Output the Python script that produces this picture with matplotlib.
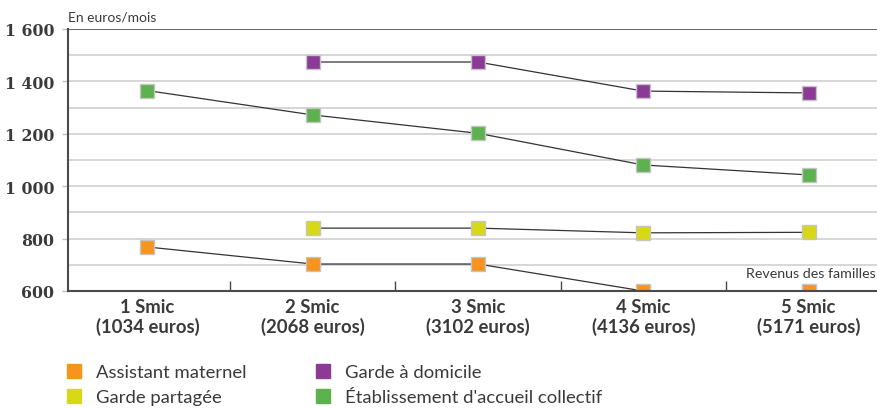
import matplotlib
matplotlib.use("Agg")
import matplotlib.pyplot as plt
from matplotlib.lines import Line2D
import numpy as np

categories = ["1 Smic\n(1034 euros)", "2 Smic\n(2068 euros)", "3 Smic\n(3102 euros)",
              "4 Smic\n(4136 euros)", "5 Smic\n(5171 euros)"]
assistant_maternel = [768, 703, 703, 600, 600]
garde_partagee = [None, 840, 840, 822, 824]
garde_domicile = [None, 1474, 1474, 1363, 1356]
etablissement = [1365, 1272, 1202, 1081, 1043]

series_names = ["Assistant maternel", "Garde partagée", "Garde à domicile",
                "Établissement d'accueil collectif"]
series_values = [assistant_maternel, garde_partagee, garde_domicile, etablissement]
colors = ["#F7941D", "#D7D916", "#8B3A96", "#5DB14E"]

yticks = [600, 800, 1000, 1200, 1400, 1600]
ytick_labels = ["600", "800", "1 000", "1 200", "1 400", "1 600"]

W, H = 878, 410
fig = plt.figure(figsize=(W/100, H/100), dpi=100)
ax = fig.add_axes([68/W, 1-292/H, 1-68/W, (292-30)/H])

x = np.arange(len(categories))
for vals, c in zip(series_values, colors):
    xs = [xi for xi, v in zip(x, vals) if v is not None]
    ys = [v for v in vals if v is not None]
    ax.plot(xs, ys, color="#333333", lw=0.9, zorder=3)
    ax.plot(xs, ys, ls="none", marker="s", ms=10.5, mfc=c, mec="#c4c4c4", mew=1.0, zorder=4)

ax.set_xlim(-0.48, 4.42)
ax.set_ylim(600, 1600)

for yv in range(700, 1600, 100):
    ax.axhline(yv, color="#cfcfcf", lw=1.2, zorder=1)
ax.axhline(1600, color="#6a6a6a", lw=1.5, zorder=2)

for s in ["top", "right"]:
    ax.spines[s].set_visible(False)
for s in ["left", "bottom"]:
    ax.spines[s].set_color("#4a4a4a")
    ax.spines[s].set_linewidth(1.5)
    ax.spines[s].set_zorder(5)

ax.set_yticks(yticks)
ax.set_yticklabels(ytick_labels, fontfamily="DejaVu Serif", fontweight="bold",
                   fontsize=11.3, color="#3a3a3a")
ax.tick_params(axis="y", length=4, width=1, color="#bdbdbd", pad=6)

ax.set_xticks(x)
ax.set_xticklabels(categories, fontfamily="Lato", fontweight="bold", fontsize=13.3,
                   color="#3a3a3a", linespacing=1.12)
ax.tick_params(axis="x", length=0, pad=5)
ax.set_xticks(np.arange(0.5, 4, 1), minor=True)
ax.tick_params(axis="x", which="minor", direction="in", length=7, width=1, color="#4a4a4a")

fig.text(68/W, 1-18/H, "En euros/mois", fontfamily="Lato", fontsize=10,
         color="#3a3a3a", va="center", ha="left")
fig.text(876/W, 1-274/H, "Revenus des familles", fontfamily="Lato", fontsize=10.3,
         color="#3a3a3a", va="center", ha="right")

handles = [Line2D([], [], ls="none", marker="s", ms=10, mfc=c, mec=c) for c in colors]
fs = 13.3
for col, left in [(0, 64.5), (1, 313.5)]:
    idx = [2*col, 2*col + 1]
    leg = fig.legend([handles[i] for i in idx], [series_names[i] for i in idx],
                     loc="upper left", bbox_to_anchor=(left/W, 1-365/H),
                     frameon=False, prop={"family": "Lato", "size": fs},
                     handletextpad=0.72, labelspacing=0.5, handlelength=1.0,
                     borderaxespad=0, borderpad=0)
    for t in leg.get_texts():
        t.set_color("#3a3a3a")

fig.savefig("out.png", dpi=100)
